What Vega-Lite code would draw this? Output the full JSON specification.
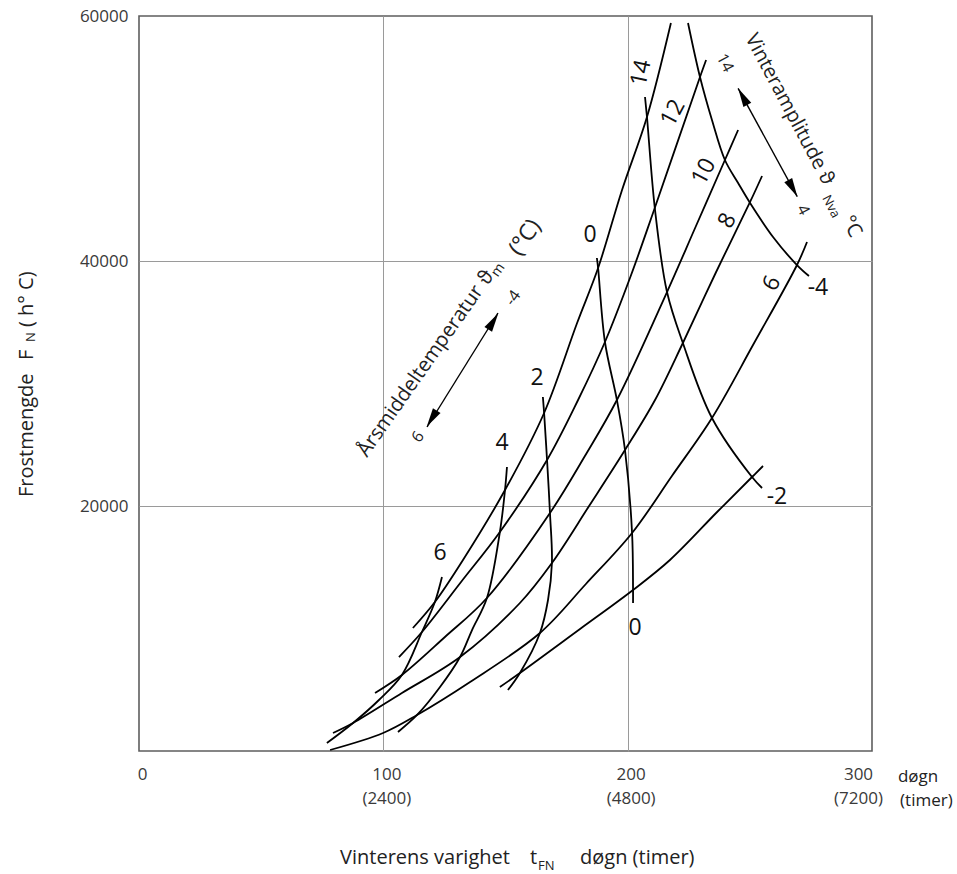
{
"$schema":"https://vega.github.io/schema/vega-lite/v6.json",
"width":733,"height":735,
"autosize":{"type":"none"},
"padding":{"left":139,"top":16,"right":85,"bottom":123},
"background":"#ffffff",
"config":{"font":"Open Sans","view":{"stroke":"#5e5e5e","strokeWidth":1.6},"axis":{"ticks":false,"domain":false,"title":null,"labelFont":"Open Sans","labelColor":"#3a3a3a","labelFontSize":17,"gridWidth":1}},
"datasets":{
"curves":[
{"c":"A14","k":1,"d":112.1,"F":10041},{"c":"A14","k":2,"d":121.1,"F":12163},{"c":"A14","k":3,"d":132.6,"F":15592},{"c":"A14","k":4,"d":149.8,"F":21306},{"c":"A14","k":5,"d":165.8,"F":27592},{"c":"A14","k":6,"d":179.3,"F":34939},{"c":"A14","k":7,"d":187.9,"F":39429},{"c":"A14","k":8,"d":197.7,"F":45796},{"c":"A14","k":9,"d":207.9,"F":51755},{"c":"A14","k":10,"d":217.7,"F":59429},
{"c":"A12","k":1,"d":106.4,"F":7673},{"c":"A12","k":2,"d":115.8,"F":9714},{"c":"A12","k":3,"d":131.8,"F":13796},{"c":"A12","k":4,"d":147.7,"F":17878},{"c":"A12","k":5,"d":167.0,"F":23755},{"c":"A12","k":6,"d":179.7,"F":28653},{"c":"A12","k":7,"d":190.7,"F":33388},{"c":"A12","k":8,"d":201.4,"F":38857},{"c":"A12","k":9,"d":210.8,"F":44163},{"c":"A12","k":10,"d":229.6,"F":55020},{"c":"A12","k":11,"d":232.1,"F":56408},
{"c":"A10","k":1,"d":96.6,"F":4735},{"c":"A10","k":2,"d":107.6,"F":6204},{"c":"A10","k":3,"d":125.2,"F":9306},{"c":"A10","k":4,"d":142.4,"F":12490},{"c":"A10","k":5,"d":168.2,"F":19429},{"c":"A10","k":6,"d":182.5,"F":24082},{"c":"A10","k":7,"d":195.6,"F":28653},{"c":"A10","k":8,"d":216.1,"F":37469},{"c":"A10","k":9,"d":227.6,"F":42694},{"c":"A10","k":10,"d":239.8,"F":48245},{"c":"A10","k":11,"d":245.2,"F":50694},
{"c":"A8","k":1,"d":79.4,"F":1469},{"c":"A8","k":2,"d":87.6,"F":2286},{"c":"A8","k":3,"d":107.6,"F":4735},{"c":"A8","k":4,"d":131.4,"F":7673},{"c":"A8","k":5,"d":155.9,"F":12082},{"c":"A8","k":6,"d":169.0,"F":15347},{"c":"A8","k":7,"d":184.2,"F":20000},{"c":"A8","k":8,"d":198.9,"F":24571},{"c":"A8","k":9,"d":211.2,"F":28653},{"c":"A8","k":10,"d":222.6,"F":33306},{"c":"A8","k":11,"d":236.2,"F":39102},{"c":"A8","k":12,"d":250.1,"F":44820},{"c":"A8","k":13,"d":255.0,"F":46939},
{"c":"A6","k":1,"d":78.2,"F":82},{"c":"A6","k":2,"d":99.9,"F":1469},{"c":"A6","k":3,"d":113.8,"F":2939},{"c":"A6","k":4,"d":135.5,"F":5633},{"c":"A6","k":5,"d":164.1,"F":9633},{"c":"A6","k":6,"d":182.9,"F":13633},{"c":"A6","k":7,"d":201.8,"F":17796},{"c":"A6","k":8,"d":218.1,"F":22449},{"c":"A6","k":9,"d":234.5,"F":27184},{"c":"A6","k":10,"d":251.3,"F":33143},{"c":"A6","k":11,"d":269.3,"F":39673},{"c":"A6","k":12,"d":273.4,"F":41551},
{"c":"A4","k":1,"d":147.7,"F":5224},{"c":"A4","k":2,"d":155.9,"F":6367},{"c":"A4","k":3,"d":180.5,"F":9959},{"c":"A4","k":4,"d":202.2,"F":13143},{"c":"A4","k":5,"d":217.3,"F":15592},{"c":"A4","k":6,"d":236.6,"F":19510},{"c":"A4","k":7,"d":250.9,"F":22367},{"c":"A4","k":8,"d":255.4,"F":23265},
{"c":"T6","k":1,"d":124.0,"F":14204},{"c":"T6","k":2,"d":121.1,"F":12163},{"c":"T6","k":3,"d":115.8,"F":9714},{"c":"T6","k":4,"d":107.6,"F":6204},{"c":"T6","k":5,"d":98.2,"F":4163},{"c":"T6","k":6,"d":87.6,"F":2286},{"c":"T6","k":7,"d":76.9,"F":653},
{"c":"T4","k":1,"d":150.6,"F":23184},{"c":"T4","k":2,"d":149.8,"F":21306},{"c":"T4","k":3,"d":147.7,"F":17878},{"c":"T4","k":4,"d":142.4,"F":12490},{"c":"T4","k":5,"d":136.3,"F":9877},{"c":"T4","k":6,"d":131.4,"F":7673},{"c":"T4","k":7,"d":123.2,"F":5224},{"c":"T4","k":8,"d":113.8,"F":2939},{"c":"T4","k":9,"d":106.0,"F":1551},
{"c":"T2","k":1,"d":165.3,"F":28898},{"c":"T2","k":2,"d":165.8,"F":27592},{"c":"T2","k":3,"d":167.0,"F":23755},{"c":"T2","k":4,"d":168.2,"F":19429},{"c":"T2","k":5,"d":169.0,"F":15347},{"c":"T2","k":6,"d":167.4,"F":12327},{"c":"T2","k":7,"d":164.1,"F":9633},{"c":"T2","k":8,"d":155.9,"F":6367},{"c":"T2","k":9,"d":151.0,"F":4980},
{"c":"T0","k":1,"d":187.4,"F":40245},{"c":"T0","k":2,"d":187.9,"F":39429},{"c":"T0","k":3,"d":190.7,"F":33388},{"c":"T0","k":4,"d":195.6,"F":28653},{"c":"T0","k":5,"d":198.9,"F":24571},{"c":"T0","k":6,"d":201.8,"F":17796},{"c":"T0","k":7,"d":202.2,"F":13143},{"c":"T0","k":8,"d":202.2,"F":12082},
{"c":"Tm2","k":1,"d":207.1,"F":53388},{"c":"Tm2","k":2,"d":207.9,"F":51755},{"c":"Tm2","k":3,"d":211.2,"F":44163},{"c":"Tm2","k":4,"d":216.1,"F":37469},{"c":"Tm2","k":5,"d":222.6,"F":33306},{"c":"Tm2","k":6,"d":234.5,"F":27184},{"c":"Tm2","k":7,"d":250.9,"F":22367},{"c":"Tm2","k":8,"d":255.0,"F":21469},
{"c":"Tm4","k":1,"d":224.7,"F":59429},{"c":"Tm4","k":2,"d":229.6,"F":55020},{"c":"Tm4","k":3,"d":234.5,"F":51510},{"c":"Tm4","k":4,"d":239.8,"F":48245},{"c":"Tm4","k":5,"d":245.2,"F":46366},{"c":"Tm4","k":6,"d":250.1,"F":44733},{"c":"Tm4","k":7,"d":259.5,"F":41958},{"c":"Tm4","k":8,"d":269.3,"F":39673},{"c":"Tm4","k":9,"d":274.2,"F":38774}
],
"labels":[
{"g":"tm","t":"6","d":123.2,"F":16163},
{"g":"tm","t":"4","d":148.6,"F":25143},
{"g":"tm","t":"2","d":162.9,"F":30449},
{"g":"tm","t":"0","d":184.6,"F":42122},
{"g":"tm","t":"0","d":203.0,"F":10041},
{"g":"tm","t":"-2","d":261.1,"F":20735},
{"g":"tm","t":"-4","d":277.9,"F":37796},
{"g":"amp14","t":"14","d":205.5,"F":55347},
{"g":"amp","t":"12","d":218.6,"F":52082},
{"g":"amp","t":"10","d":231.2,"F":47289},
{"g":"amp","t":"8","d":240.8,"F":43289},
{"g":"amp","t":"6","d":259.0,"F":38178},
{"g":"tmSmall","t":"-4","d":153.1,"F":36980},
{"g":"tmSmall","t":"6","d":114.2,"F":25633},
{"g":"ampSmall","t":"14","d":239.8,"F":56163},
{"g":"ampSmall","t":"4","d":271.8,"F":44163},
{"g":"tmText","t":"Årsmiddeltemperatur","d":93.3,"F":23918},
{"g":"tmText","t":"ϑ","d":142.6,"F":37958},
{"g":"tmSub","t":"m","d":146.8,"F":38636},
{"g":"tmUnit","t":"(°C)","d":155.9,"F":40326},
{"g":"ampText","t":"Vinteramplitude ϑ","d":248.0,"F":58204},
{"g":"ampText","t":"°C","d":287.4,"F":43346},
{"g":"ampSub","t":"Nva","d":279.5,"F":45141},
{"g":"ytitle","t":"Frostmengde","d":-43.4,"F":20735},
{"g":"ytitle","t":"F","d":-43.4,"F":31918},
{"g":"ytitle","t":"( h° C)","d":-43.4,"F":34612},
{"g":"ysub","t":"N","d":-42.6,"F":33387},
{"g":"xtitle","t":"Vinterens varighet","d":82.3,"F":-9224},
{"g":"xtitle","t":"t","d":160.0,"F":-9224},
{"g":"xsub","t":"FN","d":163.3,"F":-9714},
{"g":"xtitle","t":"døgn (timer)","d":180.5,"F":-9224},
{"g":"xunit","t":"døgn","d":310.6,"F":-2531},
{"g":"xunit","t":"(timer)","d":311.5,"F":-4490}
],
"arrows":[{"a":"tm","d":117.9,"F":26449,"d2":146.9,"F2":35755},{"a":"amp","d":245.2,"F":54098,"d2":269.4,"F2":45249}],
"heads":[{"h":"tmUp","d":145.0,"F":35068},{"h":"tmDown","d":119.8,"F":27134},{"h":"ampDown","d":267.6,"F":45925},{"h":"ampUp","d":247.1,"F":53419}]
},
"layer":[
{"data":{"name":"curves"},"mark":{"type":"line","color":"#000000","strokeWidth":1.8,"interpolate":"catmull-rom"},
 "encoding":{
  "x":{"field":"d","type":"quantitative","scale":{"domain":[0,300],"nice":false,"zero":false},
   "axis":{"values":[0,100,200,300],"labelExpr":"datum.value === 0 ? '0' : [format(datum.value,'d'), '(' + format(datum.value*24,'d') + ')']","labelPadding":15,"labelLineHeight":24,"labelFlush":false,"labelOffset":{"condition":{"test":"datum.value === 300","value":-14},"value":3},"gridColor":{"condition":{"test":"datum.value === 100 || datum.value === 200","value":"#9a9a9a"},"value":"rgba(0,0,0,0)"}}},
  "y":{"field":"F","type":"quantitative","scale":{"domain":[0,60000],"nice":false},
   "axis":{"values":[20000,40000,60000],"format":"d","labelPadding":11,"gridColor":{"condition":{"test":"datum.value === 20000 || datum.value === 40000","value":"#9a9a9a"},"value":"rgba(0,0,0,0)"}}},
  "detail":{"field":"c","type":"nominal"},
  "order":{"field":"k","type":"quantitative"}
 }},
{"data":{"name":"arrows"},"mark":{"type":"rule","color":"#000000","strokeWidth":1.4},
 "encoding":{"x":{"field":"d","type":"quantitative"},"y":{"field":"F","type":"quantitative"},"x2":{"field":"d2"},"y2":{"field":"F2"}}},
{"data":{"name":"heads"},"transform":[{"filter":"datum.h === 'tmUp'"}],"mark":{"type":"point","shape":"M0,-1L0.47,1L-0.47,1Z","filled":true,"color":"#000000","opacity":1,"size":361,"angle":32},
 "encoding":{"x":{"field":"d","type":"quantitative"},"y":{"field":"F","type":"quantitative"}}},
{"data":{"name":"heads"},"transform":[{"filter":"datum.h === 'tmDown'"}],"mark":{"type":"point","shape":"M0,-1L0.47,1L-0.47,1Z","filled":true,"color":"#000000","opacity":1,"size":361,"angle":212},
 "encoding":{"x":{"field":"d","type":"quantitative"},"y":{"field":"F","type":"quantitative"}}},
{"data":{"name":"heads"},"transform":[{"filter":"datum.h === 'ampDown'"}],"mark":{"type":"point","shape":"M0,-1L0.47,1L-0.47,1Z","filled":true,"color":"#000000","opacity":1,"size":361,"angle":151},
 "encoding":{"x":{"field":"d","type":"quantitative"},"y":{"field":"F","type":"quantitative"}}},
{"data":{"name":"heads"},"transform":[{"filter":"datum.h === 'ampUp'"}],"mark":{"type":"point","shape":"M0,-1L0.47,1L-0.47,1Z","filled":true,"color":"#000000","opacity":1,"size":361,"angle":331},
 "encoding":{"x":{"field":"d","type":"quantitative"},"y":{"field":"F","type":"quantitative"}}},
{"data":{"name":"labels"},"transform":[{"filter":"datum.g === 'tm'"}],"mark":{"type":"text","fontSize":23,"align":"center","baseline":"middle","color":"#111111"},
 "encoding":{"x":{"field":"d","type":"quantitative"},"y":{"field":"F","type":"quantitative"},"text":{"field":"t"}}},
{"data":{"name":"labels"},"transform":[{"filter":"datum.g === 'amp'"}],"mark":{"type":"text","fontSize":23,"align":"center","baseline":"middle","color":"#111111","angle":-62},
 "encoding":{"x":{"field":"d","type":"quantitative"},"y":{"field":"F","type":"quantitative"},"text":{"field":"t"}}},
{"data":{"name":"labels"},"transform":[{"filter":"datum.g === 'amp14'"}],"mark":{"type":"text","fontSize":23,"align":"center","baseline":"middle","color":"#111111","angle":-78},
 "encoding":{"x":{"field":"d","type":"quantitative"},"y":{"field":"F","type":"quantitative"},"text":{"field":"t"}}},
{"data":{"name":"labels"},"transform":[{"filter":"datum.g === 'tmSmall'"}],"mark":{"type":"text","fontSize":16,"align":"center","baseline":"middle","color":"#222222","angle":-55},
 "encoding":{"x":{"field":"d","type":"quantitative"},"y":{"field":"F","type":"quantitative"},"text":{"field":"t"}}},
{"data":{"name":"labels"},"transform":[{"filter":"datum.g === 'ampSmall'"}],"mark":{"type":"text","fontSize":16,"align":"center","baseline":"middle","color":"#222222","angle":62},
 "encoding":{"x":{"field":"d","type":"quantitative"},"y":{"field":"F","type":"quantitative"},"text":{"field":"t"}}},
{"data":{"name":"labels"},"transform":[{"filter":"datum.g === 'tmText'"}],"mark":{"type":"text","fontSize":20.2,"align":"left","baseline":"alphabetic","color":"#222222","angle":-55},
 "encoding":{"x":{"field":"d","type":"quantitative"},"y":{"field":"F","type":"quantitative"},"text":{"field":"t"}}},
{"data":{"name":"labels"},"transform":[{"filter":"datum.g === 'tmSub'"}],"mark":{"type":"text","fontSize":14,"align":"left","baseline":"alphabetic","color":"#222222","angle":-55},
 "encoding":{"x":{"field":"d","type":"quantitative"},"y":{"field":"F","type":"quantitative"},"text":{"field":"t"}}},
{"data":{"name":"labels"},"transform":[{"filter":"datum.g === 'tmUnit'"}],"mark":{"type":"text","fontSize":23,"align":"left","baseline":"alphabetic","color":"#222222","angle":-55},
 "encoding":{"x":{"field":"d","type":"quantitative"},"y":{"field":"F","type":"quantitative"},"text":{"field":"t"}}},
{"data":{"name":"labels"},"transform":[{"filter":"datum.g === 'ampText'"}],"mark":{"type":"text","fontSize":20,"align":"left","baseline":"alphabetic","color":"#222222","angle":62},
 "encoding":{"x":{"field":"d","type":"quantitative"},"y":{"field":"F","type":"quantitative"},"text":{"field":"t"}}},
{"data":{"name":"labels"},"transform":[{"filter":"datum.g === 'ampSub'"}],"mark":{"type":"text","fontSize":13,"align":"left","baseline":"alphabetic","color":"#222222","angle":62},
 "encoding":{"x":{"field":"d","type":"quantitative"},"y":{"field":"F","type":"quantitative"},"text":{"field":"t"}}},
{"data":{"name":"labels"},"transform":[{"filter":"datum.g === 'ytitle'"}],"mark":{"type":"text","fontSize":20,"align":"left","baseline":"alphabetic","color":"#222222","angle":270},
 "encoding":{"x":{"field":"d","type":"quantitative"},"y":{"field":"F","type":"quantitative"},"text":{"field":"t"}}},
{"data":{"name":"labels"},"transform":[{"filter":"datum.g === 'ysub'"}],"mark":{"type":"text","fontSize":13,"align":"left","baseline":"alphabetic","color":"#222222","angle":270},
 "encoding":{"x":{"field":"d","type":"quantitative"},"y":{"field":"F","type":"quantitative"},"text":{"field":"t"}}},
{"data":{"name":"labels"},"transform":[{"filter":"datum.g === 'xtitle'"}],"mark":{"type":"text","fontSize":20,"align":"left","baseline":"alphabetic","color":"#222222"},
 "encoding":{"x":{"field":"d","type":"quantitative"},"y":{"field":"F","type":"quantitative"},"text":{"field":"t"}}},
{"data":{"name":"labels"},"transform":[{"filter":"datum.g === 'xsub'"}],"mark":{"type":"text","fontSize":13,"align":"left","baseline":"alphabetic","color":"#222222"},
 "encoding":{"x":{"field":"d","type":"quantitative"},"y":{"field":"F","type":"quantitative"},"text":{"field":"t"}}},
{"data":{"name":"labels"},"transform":[{"filter":"datum.g === 'xunit'"}],"mark":{"type":"text","fontSize":17,"align":"left","baseline":"alphabetic","color":"#222222"},
 "encoding":{"x":{"field":"d","type":"quantitative"},"y":{"field":"F","type":"quantitative"},"text":{"field":"t"}}}
]
}
